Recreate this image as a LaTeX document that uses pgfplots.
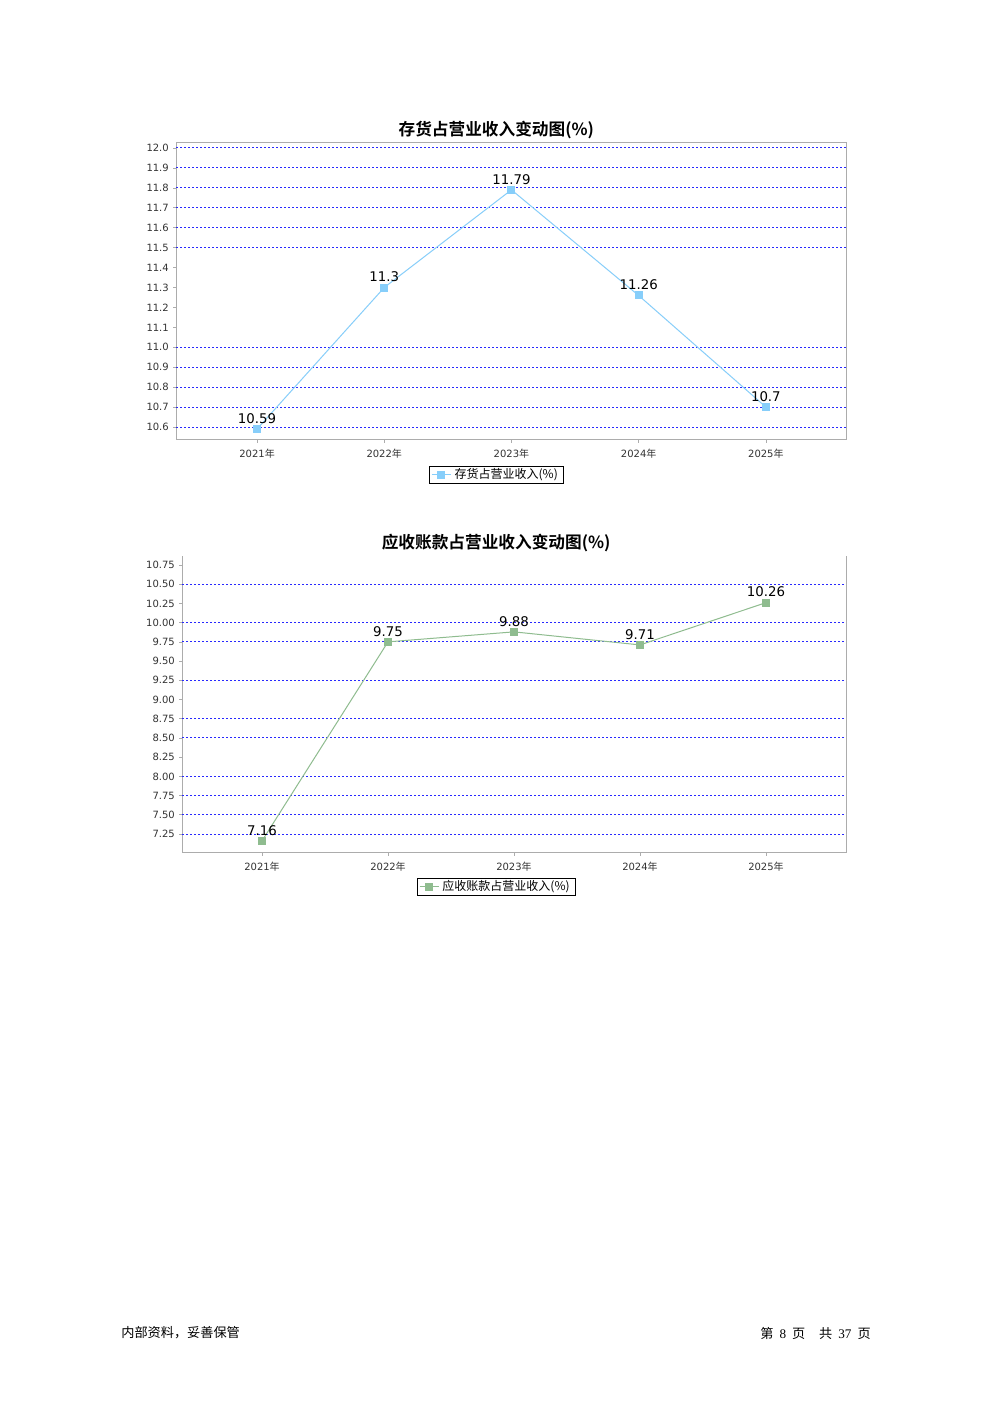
\documentclass[border=0pt]{standalone}
\usepackage{pgfplots}
\pgfplotsset{compat=1.18}
\usepackage{fontspec}
\setmainfont{DejaVu Sans}
\newfontfamily\cjk{Noto Sans CJK SC}
\newfontfamily\cjkb{Noto Sans CJK SC Bold}
\newfontfamily\serifnum{Liberation Serif}
\definecolor{line1}{RGB}{135,206,250}
\definecolor{line2}{RGB}{143,188,143}
\definecolor{gridblue}{RGB}{40,40,255}
\pgfplotsset{
  mystyle/.style={
    scale only axis,
    xmin=-0.637, xmax=4.63,
    xtick={0,1,2,3,4},
    xticklabels={2021{\cjk 年},2022{\cjk 年},2023{\cjk 年},2024{\cjk 年},2025{\cjk 年}},
    xtick pos=bottom, ytick pos=left,
    axis line style={draw=gray!65, line width=0.6pt},
    tick style={draw=gray!65, line width=0.4pt},
    tick align=outside,
    major tick length=1.8pt,
    ticklabel style={font=\fontsize{6}{7}\selectfont, color=black!80},
    yticklabel style={xshift=1pt},
    /pgf/number format/assume math mode=true,
    ymajorgrids=false, xmajorgrids=false,
    extra y tick labels={},
    extra y tick style={grid=major, major tick length=0pt, tick style={draw=none}},
    major grid style={draw=gridblue, line width=0.6pt, dash pattern=on 1.3pt off 1.1pt},
    nodes near coords,
    every node near coord/.append style={font=\fontsize{8}{9}\selectfont, color=black, anchor=base, yshift=3.5pt,
      /pgf/number format/.cd, fixed, precision=2},
    legend style={draw=black, line width=0.5pt, font=\fontsize{7.2}{8}\selectfont\cjk, inner xsep=1.2pt, inner ysep=0pt,
      nodes={inner ysep=1.2pt},
      legend cell align=left, anchor=north},
    legend image code/.code={
      \draw[mark repeat=2,mark phase=2,#1] plot coordinates {(0cm,0cm) (0.2cm,0cm) (0.4cm,0cm)};
    },
    clip=false,
  }
}
\begin{document}
\begin{tikzpicture}
\path[fill=white, use as bounding box] (0,0) rectangle (595.2pt,841.8pt);

% Chart 1
\begin{axis}[mystyle,
  at={(105.6pt,577.8pt)}, anchor=south west,
  width=402pt, height=178.2pt,
  ymin=10.535, ymax=12.025,
  ytick={10.6,10.7,10.8,10.9,11.0,11.1,11.2,11.3,11.4,11.5,11.6,11.7,11.8,11.9,12.0},
  yticklabel style={/pgf/number format/.cd, fixed, fixed zerofill, precision=1},
  extra y ticks={12.0,11.9,11.8,11.7,11.6,11.5,11.0,10.9,10.8,10.7,10.6},
  legend style={at={(0.478,-0.0875)}},
]
\addplot[color=line1, line width=0.6pt, mark=square*, mark size=2.1pt, mark options={fill=line1, draw=line1}]
  coordinates {(0,10.59) (1,11.3) (2,11.79) (3,11.26) (4,10.7)};
\addlegendentry{存货占营业收入(\%)}
\node[font=\fontsize{10}{12}\selectfont\cjkb] at (rel axis cs:0.478,1.045) {存货占营业收入变动图(\%)};
\end{axis}

% Chart 2
\begin{axis}[mystyle,
  at={(109.2pt,330pt)}, anchor=south west,
  width=398.4pt, height=178.2pt,
  xmin=-0.635, xmax=4.635,
  ymin=7.003, ymax=10.867,
  ytick={7.25,7.5,7.75,8.0,8.25,8.5,8.75,9.0,9.25,9.5,9.75,10.0,10.25,10.5,10.75},
  yticklabel style={/pgf/number format/.cd, fixed, fixed zerofill, precision=2},
  extra y ticks={10.5,10.0,9.75,9.25,8.75,8.5,8.0,7.75,7.5,7.25},
  axis x line*=bottom, axis y line*=left,
  legend style={at={(0.473,-0.084)}},
]
\addplot[color=line2, line width=0.6pt, mark=square*, mark size=2.1pt, mark options={fill=line2, draw=line2}]
  coordinates {(0,7.16) (1,9.75) (2,9.88) (3,9.71) (4,10.26)};
\addlegendentry{应收账款占营业收入(\%)}
\draw[gray!65, line width=0.6pt] (rel axis cs:1,0) -- (rel axis cs:1,1);
\node[font=\fontsize{10}{12}\selectfont\cjkb] at (rel axis cs:0.473,1.045) {应收账款占营业收入变动图(\%)};
\end{axis}

% Footer
\node[anchor=west, inner sep=0pt, font=\fontsize{7.9}{9}\selectfont\cjk] at (72.6pt,{(1403-1333)*0.6pt}) {内部资料，妥善保管};
\node[anchor=east, inner sep=0pt, font=\fontsize{7.9}{9}\selectfont\cjk] at (522.6pt,{(1403-1333)*0.6pt}) {第\hspace{3.6pt}{\serifnum 8}\hspace{3.6pt}页\hspace{8.3pt}共\hspace{3.6pt}{\serifnum 37}\hspace{3.6pt}页};
\end{tikzpicture}
\end{document}
